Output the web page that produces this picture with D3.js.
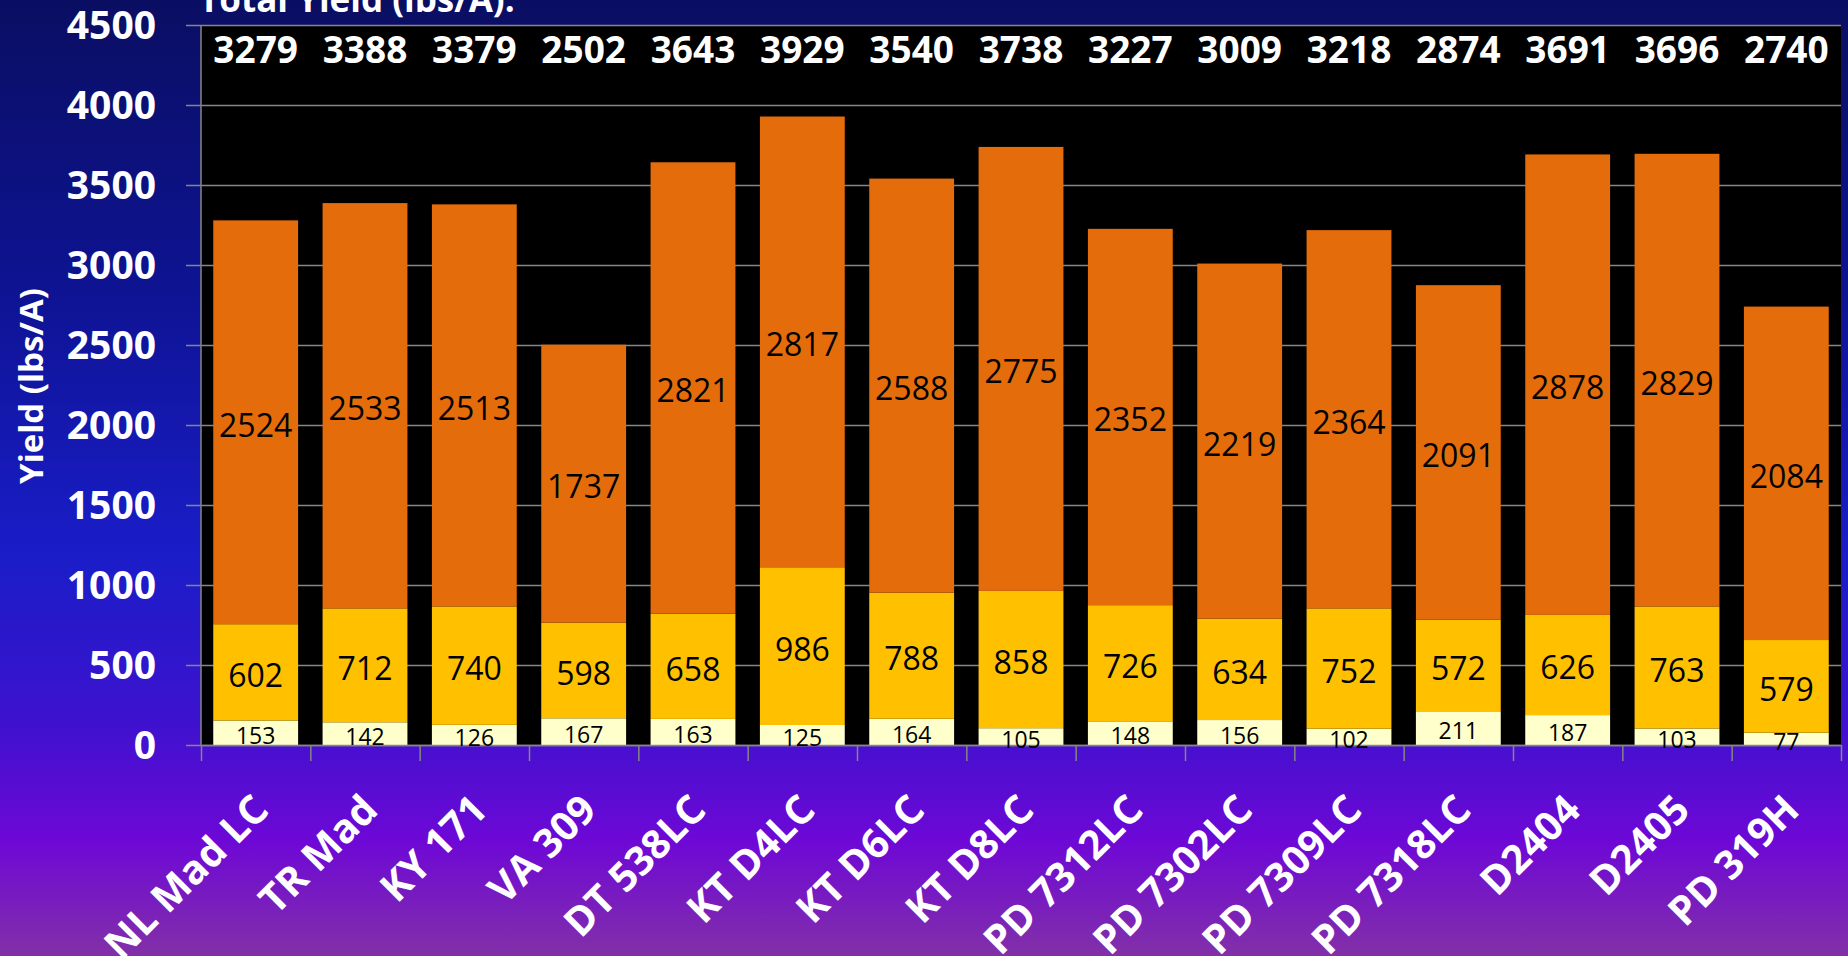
<!DOCTYPE html>
<html>
<head>
<meta charset="utf-8">
<script src="https://cdn.jsdelivr.net/npm/d3@7"></script>
<style>
  html, body { margin: 0; padding: 0; overflow: hidden; }
  svg { display: block; }
  text { font-family: "Open Sans", sans-serif; }
</style>
</head>
<body>
<svg id="svg"></svg>
<script>

var width = 1848;
var height = 956;

// data
var varieties = ["NL Mad LC", "TR Mad", "KY 171", "VA 309", "DT 538LC", "KT D4LC", "KT D6LC",
    "KT D8LC", "PD 7312LC", "PD 7302LC", "PD 7309LC", "PD 7318LC", "D2404", "D2405", "PD 319H"];
var lowGrade = [153, 142, 126, 167, 163, 125, 164, 105, 148, 156, 102, 211, 187, 103, 77];
var midGrade = [602, 712, 740, 598, 658, 986, 788, 858, 726, 634, 752, 572, 626, 763, 579];
var topGrade = [2524, 2533, 2513, 1737, 2821, 2817, 2588, 2775, 2352, 2219, 2364, 2091, 2878, 2829, 2084];
var totals = [3279, 3388, 3379, 2502, 3643, 3929, 3540, 3738, 3227, 3009, 3218, 2874, 3691, 3696, 2740];
var yTicks = [0, 500, 1000, 1500, 2000, 2500, 3000, 3500, 4000, 4500];

var colors = ["#FFFFCC", "#FFC000", "#E46C0A"];
var labelSizes = [23, 32, 32];

// plot box (don't use "top", it is window.top)
var pLeft = 201, pRight = 1841, pTop = 25, pBottom = 745;

var svg = d3.select("#svg").attr("width", width).attr("height", height);

// background gradient
var defs = svg.append("defs");
var grad = defs.append("linearGradient").attr("id", "bg")
    .attr("x1", 0).attr("y1", 0).attr("x2", 0).attr("y2", 1);
[[0, "#0A0E62"], [0.3, "#0E1392"], [0.58, "#1A1DC8"], [0.75, "#3C12CE"], [0.88, "#6E08D6"], [1, "#8230A8"]]
    .forEach(function(s){
        grad.append("stop").attr("offset", s[0]).attr("stop-color", s[1]);
    });
svg.append("rect").attr("width", width).attr("height", height).attr("fill", "url(#bg)");

var x = d3.scaleBand().domain(varieties).range([pLeft, pRight])
    .paddingInner(0.224).paddingOuter(0.112);
var y = d3.scaleLinear().domain([0, 4500]).range([pBottom, pTop]);

// plot area
svg.append("rect")
    .attr("x", pLeft).attr("y", pTop)
    .attr("width", pRight - pLeft).attr("height", pBottom - pTop)
    .attr("fill", "#000");

// gridlines
var grid = svg.append("g")
    .attr("transform", "translate(186,0)")
    .call(d3.axisLeft(y).tickValues(yTicks).tickSize(-(pRight - 186)).tickFormat(""));
grid.select(".domain").remove();
grid.selectAll("line").attr("stroke", "#868686").attr("stroke-width", 1.5);

// stacked bars
var series = varieties.map(function(v, i){
    var a = lowGrade[i], b = a + midGrade[i], c = b + topGrade[i];
    return [
        {name: v, y0: 0, y1: a, val: lowGrade[i], k: 0},
        {name: v, y0: a, y1: b, val: midGrade[i], k: 1},
        {name: v, y0: b, y1: c, val: topGrade[i], k: 2}
    ];
});
var segs = d3.merge(series);

svg.append("g").selectAll("rect")
    .data(segs)
    .join("rect")
    .attr("x", function(d){ return x(d.name); })
    .attr("width", x.bandwidth())
    .attr("y", function(d){ return y(d.y1); })
    .attr("height", function(d){ return y(d.y0) - y(d.y1); })
    .attr("fill", function(d){ return colors[d.k]; });

// y axis line
svg.append("line")
    .attr("x1", pLeft).attr("x2", pLeft).attr("y1", pTop).attr("y2", pBottom)
    .attr("stroke", "#868686").attr("stroke-width", 1.5);

// x axis with ticks between categories
var xEdges = d3.scaleLinear().domain([0, varieties.length]).range([pLeft, pRight]);
var xa = svg.append("g")
    .attr("transform", "translate(0," + pBottom + ")")
    .call(d3.axisBottom(xEdges).tickValues(d3.range(0, varieties.length + 1)).tickSize(16).tickSizeOuter(0).tickFormat(""));
xa.select(".domain").attr("stroke", "#868686").attr("stroke-width", 1.5);
xa.selectAll("line").attr("stroke", "#868686").attr("stroke-width", 1.5);

// segment value labels
svg.append("g").selectAll("text")
    .data(segs)
    .join("text")
    .attr("x", function(d){ return x(d.name) + x.bandwidth() / 2; })
    .attr("y", function(d){
        var fs = labelSizes[d.k];
        return (y(d.y0) + y(d.y1)) / 2 + 0.357 * fs + 3;
    })
    .attr("text-anchor", "middle")
    .attr("font-size", function(d){ return labelSizes[d.k]; })
    .attr("fill", "#000")
    .text(function(d){ return d.val; });

// y tick labels
svg.append("g").selectAll("text")
    .data(yTicks)
    .join("text")
    .attr("x", 156)
    .attr("y", function(d){ return y(d) + 14; })
    .attr("text-anchor", "end")
    .attr("font-size", 39)
    .attr("font-weight", "bold")
    .attr("fill", "#fff")
    .text(function(d){ return d; });

// y axis title
svg.append("text")
    .attr("transform", "translate(43,386) rotate(-90)")
    .attr("text-anchor", "middle")
    .attr("font-size", 33)
    .attr("font-weight", "bold")
    .attr("fill", "#fff")
    .text("Yield (lbs/A)");

// totals row
svg.append("text")
    .attr("x", 199).attr("y", 12)
    .attr("font-size", 35)
    .attr("font-weight", "bold")
    .attr("fill", "#fff")
    .text("Total Yield (lbs/A):");

svg.append("g").selectAll("text")
    .data(varieties)
    .join("text")
    .attr("x", function(d){ return x(d) + x.bandwidth() / 2; })
    .attr("y", 63)
    .attr("text-anchor", "middle")
    .attr("font-size", 37)
    .attr("font-weight", "bold")
    .attr("fill", "#fff")
    .text(function(d, i){ return totals[i]; });

// category labels
svg.append("g").selectAll("text")
    .data(varieties)
    .join("text")
    .attr("transform", function(d){
        return "translate(" + (x(d) + x.bandwidth() / 2 + 15) + ",812) rotate(-45)";
    })
    .attr("text-anchor", "end")
    .attr("font-size", 40)
    .attr("font-weight", "bold")
    .attr("fill", "#fff")
    .text(function(d){ return d; });

</script>
</body>
</html>
